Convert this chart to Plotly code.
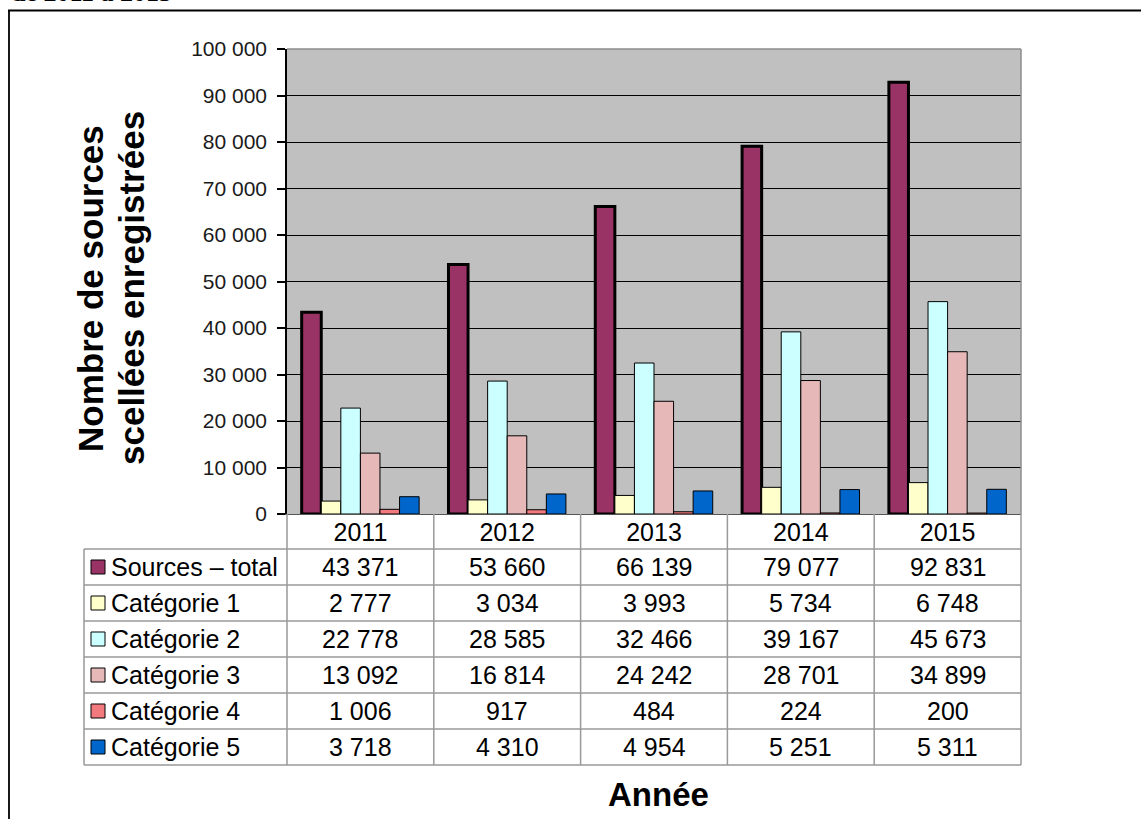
import plotly.graph_objects as go

# ---- data -------------------------------------------------------------
years = ["2011", "2012", "2013", "2014", "2015"]
series_names = ["Sources – total", "Catégorie 1", "Catégorie 2",
                "Catégorie 3", "Catégorie 4", "Catégorie 5"]
sources_total = [43371, 53660, 66139, 79077, 92831]
categorie_1 = [2777, 3034, 3993, 5734, 6748]
categorie_2 = [22778, 28585, 32466, 39167, 45673]
categorie_3 = [13092, 16814, 24242, 28701, 34899]
categorie_4 = [1006, 917, 484, 224, 200]
categorie_5 = [3718, 4310, 4954, 5251, 5311]
y_ticks = [0, 10000, 20000, 30000, 40000, 50000, 60000, 70000, 80000, 90000, 100000]

series_values = [sources_total, categorie_1, categorie_2,
                 categorie_3, categorie_4, categorie_5]
series_colors = ["#993366", "#FFFFCC", "#CCFFFF", "#E6B9B8", "#F27A7E", "#0066CC"]
series_line_w = [3, 1, 1, 1, 1, 1]

# ---- geometry (pixels) ------------------------------------------------
W, H = 1141, 819
L, R, T, B = 287, 1021, 49, 514
TABLE_LEFT = 84
ROW_H = 36
HEADER_BOTTOM = 549

FONT = "Arial, Liberation Sans, sans-serif"
SERIF = "Times New Roman, Liberation Serif, serif"


def px(x):
    return (x - L) / (R - L)


def py(y):
    return (B - y) / (B - T)


def fmt(v):
    return f"{v:,}".replace(",", " ")


fig = go.Figure()
for name, vals, col, lw in zip(series_names, series_values, series_colors, series_line_w):
    fig.add_trace(go.Bar(
        x=years, y=vals, name=name,
        marker=dict(color=col, line=dict(color="black", width=lw)),
        showlegend=False,
    ))

shapes = []
annotations = []

# outer frame (top and left rules)
shapes.append(dict(type="line", xref="paper", yref="paper",
                   x0=px(8), x1=px(W + 5), y0=py(10.5), y1=py(10.5),
                   line=dict(color="black", width=1.8)))
shapes.append(dict(type="line", xref="paper", yref="paper",
                   x0=px(9), x1=px(9), y0=py(10.5), y1=py(H + 5),
                   line=dict(color="black", width=1.8)))

# plot-area border (top & right, grey)
shapes.append(dict(type="line", xref="paper", yref="paper", layer="above",
                   x0=0, x1=1, y0=1, y1=1, line=dict(color="#8c8c8c", width=1.5)))
shapes.append(dict(type="line", xref="paper", yref="paper", layer="above",
                   x0=1, x1=1, y0=0, y1=1, line=dict(color="#8c8c8c", width=1.5)))

# data table grid
GRID = dict(color="#999999", width=1.5)
n_rows = len(series_names)
table_bottom = HEADER_BOTTOM + n_rows * ROW_H
col_w = (R - L) / len(years)
# vertical lines of the year columns (from axis down to table bottom)
for i in range(len(years) + 1):
    x = L + i * col_w
    shapes.append(dict(type="line", xref="paper", yref="paper",
                       x0=px(x), x1=px(x), y0=py(B), y1=py(table_bottom), line=GRID))
# left border of the label column
shapes.append(dict(type="line", xref="paper", yref="paper",
                   x0=px(TABLE_LEFT), x1=px(TABLE_LEFT),
                   y0=py(HEADER_BOTTOM), y1=py(table_bottom), line=GRID))
# horizontal rules
for r in range(n_rows + 1):
    y = HEADER_BOTTOM + r * ROW_H
    shapes.append(dict(type="line", xref="paper", yref="paper",
                       x0=px(TABLE_LEFT), x1=px(R), y0=py(y), y1=py(y), line=GRID))

# table rows: legend key, series name, values
for r, (name, vals, col) in enumerate(zip(series_names, series_values, series_colors)):
    yc = HEADER_BOTTOM + r * ROW_H + ROW_H / 2
    shapes.append(dict(type="rect", xref="paper", yref="paper",
                       x0=px(91), x1=px(105), y0=py(yc - 7), y1=py(yc + 7),
                       fillcolor=col, line=dict(color="black", width=1)))
    annotations.append(dict(xref="paper", yref="paper", x=px(109), y=py(yc),
                            text=name, showarrow=False, xanchor="left", yanchor="middle",
                            font=dict(family=FONT, size=25, color="black")))
    for i, v in enumerate(vals):
        xc = L + (i + 0.5) * col_w
        annotations.append(dict(xref="paper", yref="paper", x=px(xc), y=py(yc),
                                text=fmt(v), showarrow=False, xanchor="center",
                                yanchor="middle",
                                font=dict(family=FONT, size=25, color="black")))

# y-axis title, one annotation per line for tight leading
for txt, xc in (("Nombre de sources", 90), ("scellées enregistrées", 131)):
    annotations.append(dict(xref="paper", yref="paper", x=px(xc), y=py(288),
                            text=f"<b>{txt}</b>",
                            textangle=-90, showarrow=False,
                            xanchor="center", yanchor="middle",
                            font=dict(family=FONT, size=35, color="black")))
# x title
annotations.append(dict(xref="paper", yref="paper", x=px(658), y=py(794),
                        text="<b>Année</b>", showarrow=False,
                        xanchor="center", yanchor="middle",
                        font=dict(family=FONT, size=33, color="black")))
# heading fragment at the very top
annotations.append(dict(xref="paper", yref="paper", x=px(9), y=py(9),
                        text="<b>de 2011 à 2015</b>", showarrow=False,
                        xanchor="left", yanchor="bottom",
                        font=dict(family=SERIF, size=26, color="black")))

fig.update_layout(
    width=W, height=H,
    margin=dict(l=L, r=W - R, t=T, b=H - B, pad=0),
    paper_bgcolor="white",
    plot_bgcolor="#C0C0C0",
    barmode="group", bargap=0.2, bargroupgap=0,
    separators=", ",
    shapes=shapes,
    annotations=annotations,
    font=dict(family=FONT, color="black"),
)
fig.update_xaxes(
    type="category", showgrid=False, ticks="",
    showline=True, linecolor="#555555", linewidth=1,
    tickfont=dict(family=FONT, size=25, color="black"),
    ticklabelstandoff=-4,
)
fig.update_yaxes(
    range=[0, 100000], tickvals=y_ticks, tickformat=",d",
    showgrid=True, gridcolor="black", gridwidth=1,
    zeroline=False,
    showline=True, linecolor="black", linewidth=1.5,
    ticks="outside", ticklen=8, tickcolor="black", tickwidth=1.5,
    tickfont=dict(family=FONT, size=21, color="#1a1a1a"),
    ticklabelstandoff=6,
)

fig.write_html("out.html")
